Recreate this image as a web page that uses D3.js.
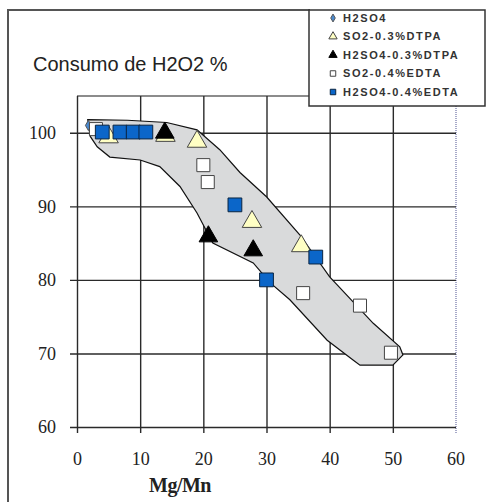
<!DOCTYPE html>
<html>
<head>
<meta charset="utf-8">
<script src="https://cdn.jsdelivr.net/npm/d3@7"></script>
<style>
  body { margin: 0; background: #fff; }
  svg { display: block; }
  .grid line { stroke: #2a2a2a; stroke-width: 1.4; }
  .grid path { display: none; }
  .tick text { font-family: "Liberation Serif", "Times New Roman", serif; font-size: 18px; fill: #222; }
</style>
</head>
<body>
<svg id="chart" width="487" height="502"></svg>
<script>
// series (x = Mg/Mn, y = consumo H2O2 %)
var seriesNames = ["H2SO4", "SO2-0.3%DTPA", "H2SO4-0.3%DTPA", "SO2-0.4%EDTA", "H2SO4-0.4%EDTA"];
var h2so4 = [[1.8, 101]];
var so2Dtpa = [[5, 99.4], [14, 99.6], [19, 98.8], [27.7, 87.9], [35.5, 84.6]];
var h2so4Dtpa = [[13.9, 100], [20.8, 85.9], [27.9, 84]];
var so2Edta = [[3, 100.5], [20, 95.6], [20.7, 93.3], [35.8, 78.2], [44.8, 76.5], [49.7, 70.1]];
var h2so4Edta = [[4, 100.1], [6.8, 100.1], [8.9, 100.1], [10.9, 100.1], [25, 90.2], [30, 80], [37.8, 83.1]];

// outline of the shaded band
var band = [[1.7, 101.8], [8, 101.7], [14.2, 101.4], [19, 100.4], [22.6, 97.7], [25.8, 94.6],
  [30, 91.3], [35.3, 86.1], [40, 80.4], [46.9, 74.1], [51.1, 70.9], [51.6, 69.8], [50, 68.4],
  [44.8, 68.4], [43.7, 69.1], [39.6, 71.8], [33.7, 77.3], [30.6, 79.6], [27.9, 82.3],
  [21.5, 85], [19, 89.1], [16.3, 92.7], [13.1, 95.4], [10, 96.3], [5.2, 96.7], [3.2, 98.1], [2.1, 99.5]];

var xTicks = [0, 10, 20, 30, 40, 50, 60];
var yTicks = [60, 70, 80, 90, 100];

var svg = d3.select("#chart");

var x = d3.scaleLinear().domain([0, 60]).range([77, 456]);
var y = d3.scaleLinear().domain([60, 105]).range([427, 96]);

// outer frame
svg.append("path")
  .attr("d", "M8,502 V10 H310")
  .attr("fill", "none")
  .attr("stroke", "#555")
  .attr("stroke-width", 2);

// title
svg.append("text")
  .attr("x", 33).attr("y", 71)
  .style("font-family", "'Liberation Sans', Arial, sans-serif")
  .style("font-size", "20px")
  .style("fill", "#222")
  .text("Consumo de H2O2 %");

// plot top border and right border
svg.append("line")
  .attr("x1", x(0)).attr("x2", x(60)).attr("y1", y(105)).attr("y2", y(105))
  .attr("stroke", "#666").attr("stroke-width", 1.5);
svg.append("line")
  .attr("x1", x(60)).attr("x2", x(60)).attr("y1", y(105)).attr("y2", y(60) + 6)
  .attr("stroke", "#8a8fb8").attr("stroke-width", 1.5).attr("stroke-dasharray", "1,1");

// grid + axes
var xAxis = svg.append("g")
  .attr("class", "grid")
  .attr("transform", "translate(0," + (y(60) + 6) + ")")
  .call(d3.axisBottom(x).tickValues(xTicks.slice(0, 6))
    .tickSizeInner(-(y(60) + 6 - y(105))).tickSizeOuter(0).tickPadding(19));
xAxis.append("g").attr("class", "tick")
  .attr("transform", "translate(" + x(60) + ",0)")
  .append("text").attr("y", 19).attr("dy", "0.71em").attr("text-anchor", "middle").text(xTicks[6]);

svg.append("g")
  .attr("class", "grid")
  .attr("transform", "translate(" + (x(0) - 7) + ",0)")
  .call(d3.axisLeft(y).tickValues(yTicks)
    .tickSizeInner(-(x(60) - x(0) + 7)).tickSizeOuter(0).tickPadding(14));

svg.append("text")
  .attr("x", 180).attr("y", 492)
  .attr("text-anchor", "middle")
  .style("font-family", "'Liberation Serif', 'Times New Roman', serif")
  .style("font-weight", "bold")
  .style("font-size", "20px")
  .style("letter-spacing", "-0.5px")
  .style("fill", "#222")
  .text("Mg/Mn");

// shaded band
svg.append("path")
  .datum(band)
  .attr("d", d3.line().x(function(d) { return x(d[0]); }).y(function(d) { return y(d[1]); }).curve(d3.curveLinearClosed))
  .attr("fill", "#d9dadb")
  .attr("stroke", "#111")
  .attr("stroke-width", 1.2);

// marker shapes
var styles = [
  {data: h2so4, shape: d3.symbolDiamond, size: 30, fill: "#4a8ad0", stroke: "#555"},
  {data: so2Dtpa, shape: d3.symbolTriangle, size: 165, fill: "#ffffc4", stroke: "#444"},
  {data: h2so4Dtpa, shape: d3.symbolTriangle, size: 150, fill: "#000", stroke: "#000"},
  {data: so2Edta, shape: d3.symbolSquare, size: 170, fill: "#fff", stroke: "#444"},
  {data: h2so4Edta, shape: d3.symbolSquare, size: 190, fill: "#0b66c9", stroke: "#0a2440"}
];

styles.forEach(function(s) {
  svg.append("g").selectAll("path")
    .data(s.data)
    .enter().append("path")
    .attr("transform", function(d) { return "translate(" + x(d[0]) + "," + y(d[1]) + ")"; })
    .attr("d", d3.symbol().type(s.shape).size(s.size))
    .attr("fill", s.fill)
    .attr("stroke", s.stroke)
    .attr("stroke-width", 1);
});

// legend
var legend = svg.append("g").attr("transform", "translate(309,10)");
legend.append("rect")
  .attr("width", 176).attr("height", 96)
  .attr("fill", "#fff").attr("stroke", "#333").attr("stroke-width", 1.5);

var item = legend.selectAll("g.item")
  .data(seriesNames)
  .enter().append("g")
  .attr("class", "item")
  .attr("transform", function(d, i) { return "translate(0," + (8 + i * 18.5) + ")"; });

item.append("path")
  .attr("transform", "translate(24,0)")
  .attr("d", function(d, i) { return d3.symbol().type(styles[i].shape).size(i === 0 ? 18 : 30)(); })
  .attr("fill", function(d, i) { return styles[i].fill; })
  .attr("stroke", function(d, i) { return styles[i].stroke; })
  .attr("stroke-width", 1);

item.append("text")
  .attr("x", 34).attr("dy", "0.36em")
  .style("font-family", "'Liberation Sans', Arial, sans-serif")
  .style("font-size", "11px")
  .style("font-weight", "bold")
  .style("letter-spacing", "1.6px")
  .style("fill", "#333")
  .text(function(d) { return d; });
</script>
</body>
</html>
